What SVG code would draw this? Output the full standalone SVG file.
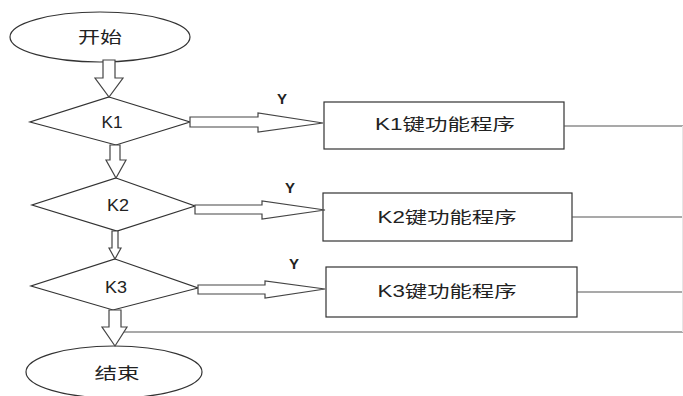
<svg xmlns="http://www.w3.org/2000/svg" width="683" height="396" viewBox="0 0 683 396">
<style>
.shape{fill:#fff;stroke:#333;stroke-width:1.2}
.conn{fill:#fff;stroke:#444;stroke-width:1.2;stroke-linejoin:miter}
.line{fill:none;stroke:#555;stroke-width:1.2}
.t{font-family:"Liberation Sans","Noto Sans CJK SC",sans-serif;font-size:16px;fill:#222;text-anchor:middle;dominant-baseline:central}
.y{font-family:"Liberation Sans",sans-serif;font-size:15px;font-weight:bold;fill:#222;text-anchor:middle;dominant-baseline:central}
</style>
<rect width="683" height="396" fill="#fff"/>
<g id="start">
<ellipse class="shape" cx="100" cy="37" rx="90" ry="25"/>
<text class="t" x="100" y="37" textLength="44" lengthAdjust="spacingAndGlyphs">开始</text>
</g>
<g id="k1">
<polygon class="shape" points="109,97 190,122 116,145 30,122"/>
<text class="t" x="112" y="122" textLength="21" lengthAdjust="spacingAndGlyphs">K1</text>
</g>
<g id="k2">
<polygon class="shape" points="116,178 195,206 117,231 32,205"/>
<text class="t" x="118" y="205" textLength="22" lengthAdjust="spacingAndGlyphs">K2</text>
</g>
<g id="k3">
<polygon class="shape" points="115,259 198,288 113,310 31,286"/>
<text class="t" x="116" y="287" textLength="22" lengthAdjust="spacingAndGlyphs">K3</text>
</g>
<g id="p1">
<rect class="shape" x="324" y="102" width="240" height="47"/>
<text class="t" x="445" y="124" textLength="140" lengthAdjust="spacingAndGlyphs">K1键功能程序</text>
</g>
<g id="p2">
<rect class="shape" x="323" y="193" width="249" height="48"/>
<text class="t" x="447" y="217" textLength="139" lengthAdjust="spacingAndGlyphs">K2键功能程序</text>
</g>
<g id="p3">
<rect class="shape" x="326" y="267" width="251" height="50"/>
<text class="t" x="447" y="291" textLength="139" lengthAdjust="spacingAndGlyphs">K3键功能程序</text>
</g>
<g id="end">
<ellipse class="shape" cx="114" cy="372" rx="88" ry="26"/>
<text class="t" x="117" y="373" textLength="45" lengthAdjust="spacingAndGlyphs">结束</text>
</g>
<g id="connectors">
<polygon class="conn" points="103,60 115,60 115,78 123,78 109,97 95,78 103,78"/>
<polygon class="conn" points="110,145 120,145 120,160 126,160 116,178 106,160 110,160"/>
<polygon class="conn" points="112,231 118,231 118,248 121,248 115,259 109,248 112,248"/>
<polygon class="conn" points="109,310 121,310 121,327 127,327 115,346 102,327 109,327"/>
<polygon class="conn" points="190,117 258,117 258,113 323,123 258,132 258,127 190,127"/>
<polygon class="conn" points="195,205 262,205 262,201 325,210 262,219 262,214 195,214"/>
<polygon class="conn" points="198,285 265,285 265,281 325,289 265,298 265,294 198,294"/>
<polyline class="line" points="564,126 683,126"/>
<polyline class="line" points="572,217 683,217"/>
<polyline class="line" points="577,292 683,292"/>
<polyline class="line" points="124,332 683,332"/>
<line x1="682.5" y1="126" x2="682.5" y2="332" stroke="#e6e6e6" stroke-width="1"/>
<text class="y" x="282" y="98">Y</text>
<text class="y" x="290" y="187">Y</text>
<text class="y" x="294" y="263">Y</text>
</g>
</svg>
